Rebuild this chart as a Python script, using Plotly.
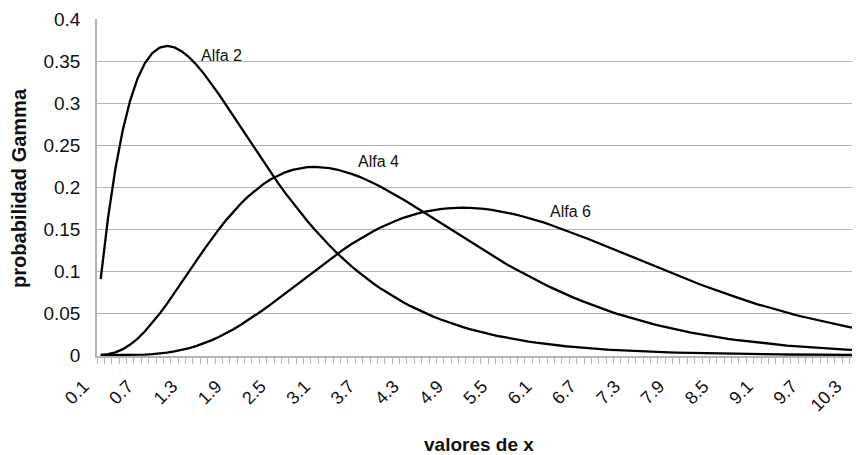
import plotly.graph_objects as go

x_values = [0.1, 0.2, 0.3, 0.4, 0.5, 0.6, 0.7, 0.8, 0.9, 1.0,
            1.1, 1.2, 1.3, 1.4, 1.5, 1.6, 1.7, 1.8, 1.9, 2.0,
            2.1, 2.2, 2.3, 2.4, 2.5, 2.6, 2.7, 2.8, 2.9, 3.0,
            3.1, 3.2, 3.3, 3.4, 3.5, 3.6, 3.7, 3.8, 3.9, 4.0,
            4.1, 4.2, 4.3, 4.4, 4.5, 4.6, 4.7, 4.8, 4.9, 5.0,
            5.1, 5.2, 5.3, 5.4, 5.5, 5.6, 5.7, 5.8, 5.9, 6.0,
            6.1, 6.2, 6.3, 6.4, 6.5, 6.6, 6.7, 6.8, 6.9, 7.0,
            7.1, 7.2, 7.3, 7.4, 7.5, 7.6, 7.7, 7.8, 7.9, 8.0,
            8.1, 8.2, 8.3, 8.4, 8.5, 8.6, 8.7, 8.8, 8.9, 9.0,
            9.1, 9.2, 9.3, 9.4, 9.5, 9.6, 9.7, 9.8, 9.9, 10.0,
            10.1, 10.2, 10.3, 10.4]

alfa_2 = [0.0905, 0.1637, 0.2222, 0.2681, 0.3033, 0.3293, 0.3476, 0.3595, 0.3659, 0.3679,
          0.3662, 0.3614, 0.3543, 0.3452, 0.3347, 0.3230, 0.3106, 0.2975, 0.2842, 0.2707,
          0.2572, 0.2438, 0.2306, 0.2177, 0.2052, 0.1931, 0.1815, 0.1703, 0.1596, 0.1494,
          0.1397, 0.1304, 0.1217, 0.1135, 0.1057, 0.0984, 0.0915, 0.0850, 0.0789, 0.0733,
          0.0679, 0.0630, 0.0583, 0.0540, 0.0500, 0.0462, 0.0427, 0.0395, 0.0365, 0.0337,
          0.0311, 0.0287, 0.0265, 0.0244, 0.0225, 0.0207, 0.0191, 0.0176, 0.0162, 0.0149,
          0.0137, 0.0126, 0.0116, 0.0106, 0.0098, 0.0090, 0.0082, 0.0076, 0.0070, 0.0064,
          0.0059, 0.0054, 0.0049, 0.0045, 0.0041, 0.0038, 0.0035, 0.0032, 0.0029, 0.0027,
          0.0025, 0.0023, 0.0021, 0.0019, 0.0017, 0.0016, 0.0015, 0.0013, 0.0012, 0.0011,
          0.0010, 0.0009, 0.0009, 0.0008, 0.0007, 0.0006, 0.0006, 0.0005, 0.0005, 0.0005,
          0.0004, 0.0004, 0.0003, 0.0003]

alfa_4 = [0.0002, 0.0011, 0.0033, 0.0072, 0.0126, 0.0198, 0.0284, 0.0383, 0.0494, 0.0613,
          0.0738, 0.0867, 0.0998, 0.1128, 0.1255, 0.1378, 0.1496, 0.1607, 0.1710, 0.1804,
          0.1890, 0.1966, 0.2033, 0.2090, 0.2138, 0.2176, 0.2205, 0.2225, 0.2237, 0.2240,
          0.2237, 0.2226, 0.2209, 0.2186, 0.2158, 0.2125, 0.2087, 0.2046, 0.2001, 0.1954,
          0.1904, 0.1852, 0.1798, 0.1743, 0.1687, 0.1631, 0.1574, 0.1517, 0.1460, 0.1404,
          0.1348, 0.1293, 0.1239, 0.1185, 0.1133, 0.1082, 0.1033, 0.0985, 0.0938, 0.0892,
          0.0849, 0.0806, 0.0765, 0.0726, 0.0688, 0.0652, 0.0617, 0.0584, 0.0552, 0.0521,
          0.0492, 0.0465, 0.0438, 0.0413, 0.0389, 0.0366, 0.0345, 0.0324, 0.0305, 0.0286,
          0.0269, 0.0253, 0.0237, 0.0222, 0.0208, 0.0195, 0.0183, 0.0172, 0.0160, 0.0149,
          0.0141, 0.0131, 0.0123, 0.0114, 0.0107, 0.0100, 0.0093, 0.0087, 0.0081, 0.0076,
          0.0071, 0.0066, 0.0061, 0.0057]

alfa_6 = [0.0000, 0.0000, 0.0000, 0.0001, 0.0002, 0.0004, 0.0007, 0.0012, 0.0020, 0.0031,
          0.0045, 0.0062, 0.0084, 0.0111, 0.0141, 0.0176, 0.0216, 0.0260, 0.0309, 0.0361,
          0.0417, 0.0476, 0.0538, 0.0602, 0.0668, 0.0735, 0.0804, 0.0872, 0.0940, 0.1008,
          0.1075, 0.1140, 0.1203, 0.1264, 0.1322, 0.1377, 0.1429, 0.1477, 0.1522, 0.1563,
          0.1600, 0.1633, 0.1662, 0.1687, 0.1708, 0.1725, 0.1738, 0.1747, 0.1753, 0.1755,
          0.1753, 0.1748, 0.1740, 0.1728, 0.1714, 0.1697, 0.1678, 0.1656, 0.1632, 0.1606,
          0.1579, 0.1549, 0.1518, 0.1487, 0.1453, 0.1419, 0.1385, 0.1350, 0.1314, 0.1277,
          0.1241, 0.1204, 0.1168, 0.1130, 0.1094, 0.1056, 0.1022, 0.0986, 0.0951, 0.0916,
          0.0883, 0.0850, 0.0817, 0.0784, 0.0751, 0.0721, 0.0694, 0.0664, 0.0633, 0.0605,
          0.0582, 0.0555, 0.0530, 0.0506, 0.0483, 0.0460, 0.0439, 0.0418, 0.0398, 0.0378,
          0.0360, 0.0342, 0.0325, 0.0308]

x_tick_values = [0.1, 0.7, 1.3, 1.9, 2.5, 3.1, 3.7, 4.3, 4.9, 5.5, 6.1, 6.7,
                 7.3, 7.9, 8.5, 9.1, 9.7, 10.3]
x_tick_labels = ["0.1", "0.7", "1.3", "1.9", "2.5", "3.1", "3.7", "4.3", "4.9",
                 "5.5", "6.1", "6.7", "7.3", "7.9", "8.5", "9.1", "9.7", "10.3"]
y_tick_values = [0, 0.05, 0.1, 0.15, 0.2, 0.25, 0.3, 0.35, 0.4]
y_tick_labels = ["0", "0.05", "0.1", "0.15", "0.2", "0.25", "0.3", "0.35", "0.4"]

series = [("Alfa 2", alfa_2), ("Alfa 4", alfa_4), ("Alfa 6", alfa_6)]
label_pos = {"Alfa 2": (1.74, 0.357), "Alfa 4": (3.86, 0.231), "Alfa 6": (6.47, 0.171)}

FONT = "Liberation Sans, Arial, sans-serif"
GRID = "#b4b4b4"
TXT = "#111111"

fig = go.Figure()
for name, vals in series:
    fig.add_trace(go.Scatter(x=x_values, y=vals, mode="lines", name=name,
                             line=dict(color="#000000", width=2.3),
                             showlegend=False))

for name, (ax, ay) in label_pos.items():
    fig.add_annotation(x=ax, y=ay, text=name, showarrow=False,
                       font=dict(family=FONT, size=16, color=TXT),
                       xanchor="center", yanchor="middle")

# axis titles
fig.add_annotation(xref="paper", yref="paper", x=0.5, y=-0.262, text="<b>valores de x</b>",
                   showarrow=False, xanchor="center", yanchor="middle",
                   font=dict(family=FONT, size=19, color=TXT))
fig.add_annotation(xref="paper", yref="paper", x=-0.103, y=0.5, text="<b>probabilidad Gamma</b>",
                   showarrow=False, xanchor="center", yanchor="middle", textangle=-90,
                   font=dict(family=FONT, size=20, color=TXT))

# the page body has an 8px default margin, so the figure is sized/placed to compensate
fig.update_layout(
    width=852, height=447,
    margin=dict(l=89, r=0, t=11, b=99, autoexpand=False),
    paper_bgcolor="white", plot_bgcolor="white",
    font=dict(family=FONT, size=17, color=TXT),
)

fig.update_xaxes(
    range=[0.05, 10.39], automargin=False,
    tickmode="array", tickvals=x_tick_values, ticktext=x_tick_labels,
    tickangle=-45, ticks="", showgrid=False,
    ticklabelshift=-17, ticklabelstandoff=11, ticklabeloverflow="allow",
    showline=True, linecolor=GRID, linewidth=1.5,
    tickfont=dict(family=FONT, size=18, color=TXT),
    minor=dict(tickmode="linear", tick0=0.05, dtick=0.1, ticks="outside",
               ticklen=6, tickcolor=GRID, tickwidth=1, showgrid=False),
    zeroline=False,
)

fig.update_yaxes(
    range=[-0.001, 0.4], automargin=False,
    tickmode="array", tickvals=y_tick_values, ticktext=y_tick_labels,
    showgrid=True, gridcolor=GRID, gridwidth=1.4,
    showline=True, linecolor=GRID, linewidth=1.5,
    ticks="", ticklabelstandoff=11,
    tickfont=dict(family=FONT, size=19, color=TXT),
    zeroline=False,
)

fig.write_html("out.html")
